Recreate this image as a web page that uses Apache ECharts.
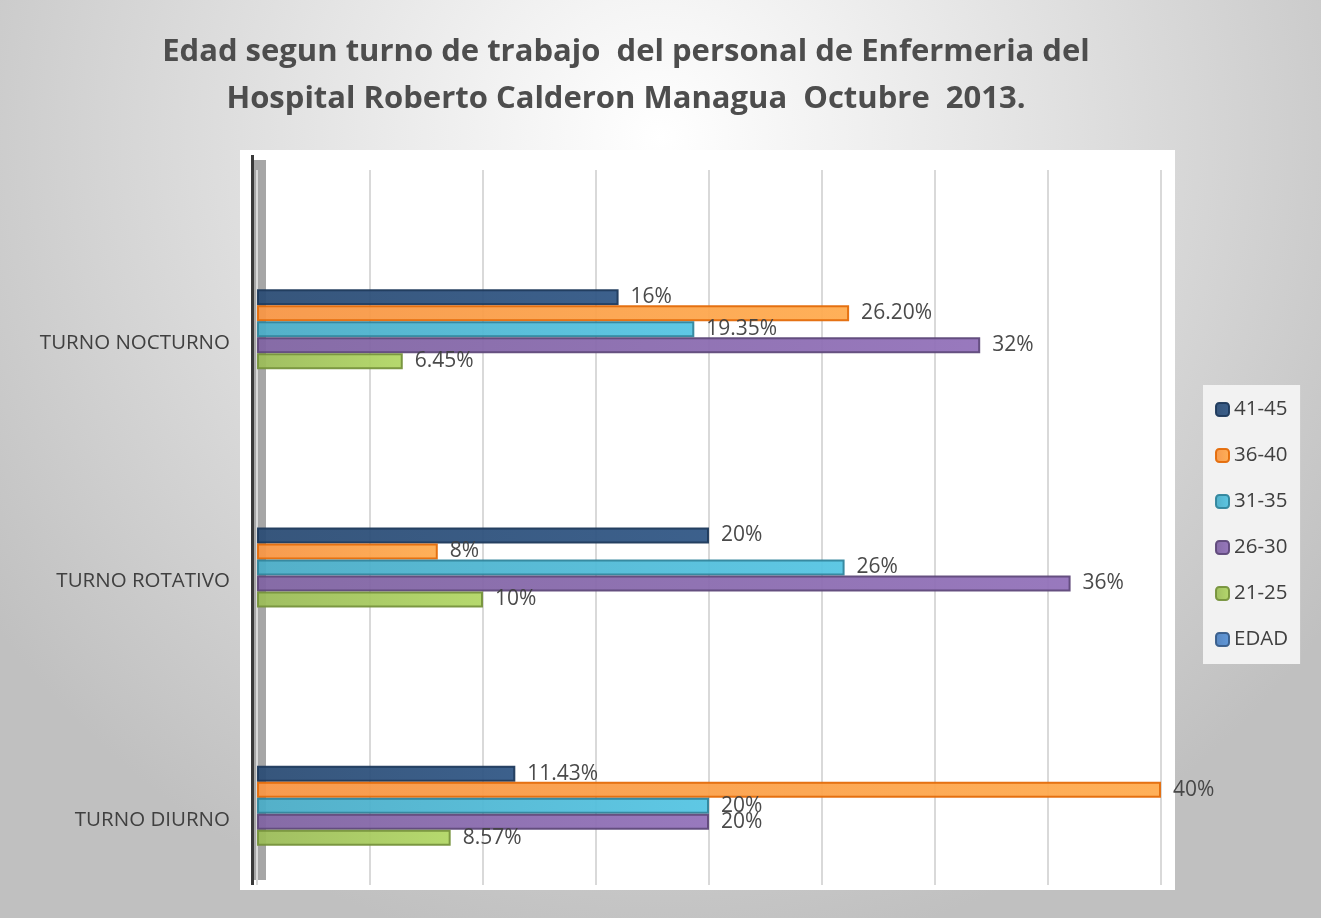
<!DOCTYPE html>
<html>
<head>
<meta charset="utf-8">
<script src="https://cdn.jsdelivr.net/npm/echarts@6/dist/echarts.min.js"></script>
<style>
html, body { margin: 0; padding: 0; }
#panel { width: 1321px; height: 918px; }
</style>
</head>
<body>
<div id="panel"></div>
<script>
// categories, bottom to top as ECharts draws them
var turnos = ['TURNO DIURNO', 'TURNO ROTATIVO', 'TURNO NOCTURNO'];
var edades = ['41-45', '36-40', '31-35', '26-30', '21-25', 'EDAD'];

var v41_45 = [11.43, 20, 16];
var v36_40 = [40, 8, 26.2];
var v31_35 = [20, 26, 19.35];
var v26_30 = [20, 36, 32];
var v21_25 = [8.57, 10, 6.45];
var vEdad = [];

var t41_45 = ['11.43%', '20%', '16%'];
var t36_40 = ['40%', '8%', '26.20%'];
var t31_35 = ['20%', '26%', '19.35%'];
var t26_30 = ['20%', '36%', '32%'];
var t21_25 = ['8.57%', '10%', '6.45%'];
var tEdad = [];

var colores = ['#2c4d75', '#f79646', '#4bacc6', '#8064a2', '#9bbb59', '#4f81bd'];
var bordes = ['#1f3a5c', '#e46c0a', '#31859c', '#5f497a', '#76923c', '#385d8a'];

var myChart;
var FONT = '"Open Sans", sans-serif';

function makeSerie(idx, data, textos)
{
    return {
        name: edades[idx],
        type: 'bar',
        data: data,
        barWidth: 16,
        barGap: '0%',
        itemStyle: {
            color: new echarts.graphic.LinearGradient(0, 0, 1, 0, [
                { offset: 0, color: colores[idx] },
                { offset: 1, color: echarts.color.lift(colores[idx], -0.15) }
            ]),
            borderColor: bordes[idx],
            borderWidth: 2,
            opacity: 0.95
        },
        label: {
            show: true,
            position: 'right',
            distance: 12,
            color: '#404040',
            fontSize: 21,
            fontFamily: FONT,
            formatter: function (p) { return textos[p.dataIndex]; }
        }
    };
}

// blank slots so the group hangs below the category centre, as in the original
function hueco()
{
    return { name: '', type: 'bar', data: [], barWidth: 16, barGap: '0%' };
}

(function ()
{
    myChart = echarts.init(document.getElementById('panel'));
    var series = [];
    for (var i = 0; i < 6; i++) series.push(hueco());
    series.push(makeSerie(0, v41_45, t41_45));
    series.push(makeSerie(1, v36_40, t36_40));
    series.push(makeSerie(2, v31_35, t31_35));
    series.push(makeSerie(3, v26_30, t26_30));
    series.push(makeSerie(4, v21_25, t21_25));
    series.push(makeSerie(5, vEdad, tEdad));

    myChart.setOption({
        backgroundColor: new echarts.graphic.RadialGradient(0.5, 0.15, 0.9, [
            { offset: 0, color: '#ffffff' },
            { offset: 1, color: '#c0c0c0' }
        ]),
        animation: false,
        title: {
            text: 'Edad segun turno de trabajo  del personal de Enfermeria del\nHospital Roberto Calderon Managua  Octubre  2013.',
            left: 621,
            top: 24,
            textAlign: 'center',
            textStyle: {
                color: '#4d4d4d',
                fontSize: 31,
                fontWeight: 'bold',
                fontFamily: FONT,
                lineHeight: 47
            }
        },
        graphic: [
            {
                type: 'rect',
                z: -10,
                shape: { x: 240, y: 150, width: 935, height: 740 },
                style: { fill: '#ffffff' }
            },
            {
                type: 'rect',
                z: -5,
                shape: { x: 254, y: 160, width: 12, height: 720 },
                style: { fill: '#a6a6a6' }
            },
            {
                type: 'rect',
                z: -4,
                shape: { x: 251, y: 155, width: 3, height: 730 },
                style: { fill: '#3a3a3a' }
            }
        ],
        legend: {
            data: edades,
            orient: 'vertical',
            left: 1203,
            top: 385,
            padding: [14, 12, 14, 12],
            itemGap: 25,
            itemWidth: 13,
            itemHeight: 13,
            backgroundColor: '#f2f2f2',
            textStyle: { color: '#404040', fontSize: 20.5, fontFamily: FONT }
        },
        grid: {
            left: 257,
            right: 160,
            top: 170,
            bottom: 33,
            containLabel: false
        },
        xAxis: {
            type: 'value',
            min: 0,
            max: 40,
            interval: 5,
            axisLabel: { show: false },
            axisLine: { show: false },
            axisTick: { show: false },
            splitLine: { lineStyle: { color: '#d9d9d9', width: 2 } }
        },
        yAxis: {
            type: 'category',
            data: turnos,
            axisTick: { show: false },
            axisLine: { show: false },
            axisLabel: {
                margin: 27,
                color: '#404040',
                fontSize: 20.5,
                fontFamily: FONT,
                formatter: function (v) { return '{a|' + v + '}'; },
                rich: {
                    a: { padding: [108, 0, 0, 0], color: '#404040', fontSize: 20.5, fontFamily: FONT }
                }
            }
        },
        series: series
    });
})();
</script>
</body>
</html>
